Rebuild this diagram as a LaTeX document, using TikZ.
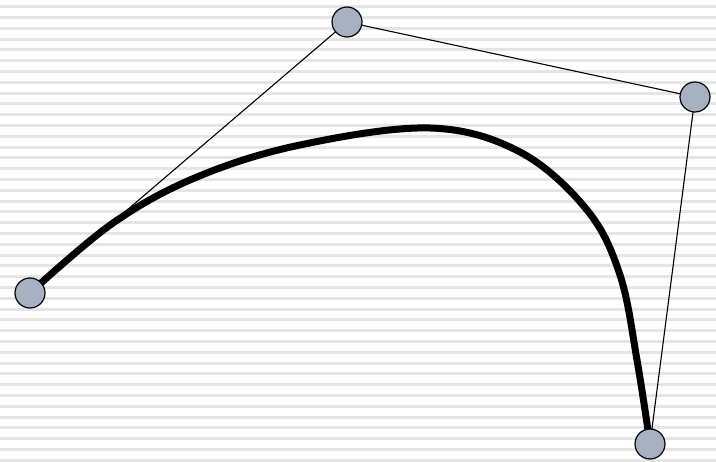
\documentclass[tikz,border=0pt]{standalone}
\begin{document}
\begin{tikzpicture}[x=1pt,y=-1pt,
  ctrl/.style={circle,draw=black,line width=1.2pt,fill={rgb,255:red,166;green,178;blue,193},minimum size=30pt,inner sep=0pt},
  poly/.style={draw=black,line width=1.1pt},
  curve/.style={draw=black,line width=7pt},
  stripe/.style={draw={rgb,255:red,229;green,229;blue,229},line width=3pt}]
\useasboundingbox (0,0) rectangle (716,462);
\fill[white] (0,0) rectangle (716,462);
\foreach \i in {0,...,42} {
  \draw[stripe] (0,{6.7+10.8*\i}) -- (716,{6.7+10.8*\i});
}
\coordinate (c0) at (30,293);
\coordinate (c1) at (347,22);
\coordinate (c2) at (695,97);
\coordinate (c3) at (650,444);
\draw[poly] (c0) -- (c1) -- (c2) -- (c3);
\draw[curve] plot[smooth,tension=0.6] coordinates {(30,293) (113,223) (197,177) (300,145) (430,128) (520,152) (587,210) (620,275) (637,360) (650,444)};
\node[ctrl] (p0) at (c0) {};
\node[ctrl] (p1) at (c1) {};
\node[ctrl] (p2) at (c2) {};
\node[ctrl] (p3) at (c3) {};
\end{tikzpicture}
\end{document}
